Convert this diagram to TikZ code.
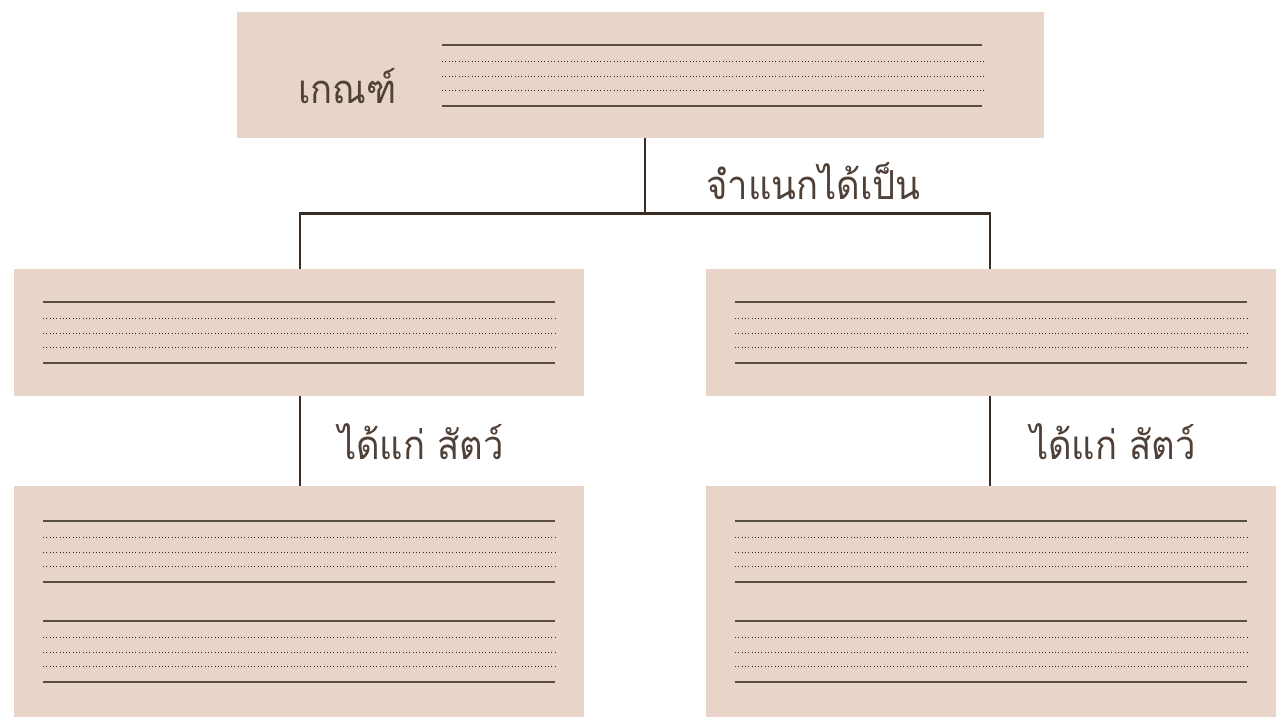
\documentclass[tikz,border=0pt]{standalone}
\usepackage{fontspec}
\newfontfamily\thaifont[Script=Thai, FakeStretch=0.91]{Loma}
\definecolor{boxfill}{HTML}{E8D4C9}
\definecolor{ink}{HTML}{3B2C22}
\tikzset{
  panel/.style={draw=none, fill=boxfill, rectangle, inner sep=0pt},
  rulesolid/.style={draw=ink!85, line width=1.2pt},
  ruledot/.style={draw=ink, line width=1pt, dash pattern=on 0.9pt off 2.4pt},
  conn/.style={draw=ink, line width=2.2pt},
  lbl/.style={text=ink!90, font=\thaifont\fontsize{40}{40}\selectfont, inner sep=0pt, anchor=base}
}
\newcommand{\ruleset}[3]{% x1, x2, ytop
  \draw[rulesolid] (#1,#3) -- (#2,#3);
  \draw[ruledot] (#1,#3+16.5) -- (#2+2,#3+16.5);
  \draw[ruledot] (#1,#3+31.5) -- (#2+2,#3+31.5);
  \draw[ruledot] (#1,#3+45.5) -- (#2+2,#3+45.5);
  \draw[rulesolid] (#1,#3+61) -- (#2,#3+61);
}
\begin{document}
\begin{tikzpicture}[x=1pt,y=-1pt]
\useasboundingbox (0,0) rectangle (1279,720);
% boxes
\node[panel, minimum width=807pt, minimum height=126pt] (top) at (640.5,75) {};
\node[panel, minimum width=570pt, minimum height=127pt] (ml) at (299,332.5) {};
\node[panel, minimum width=570pt, minimum height=127pt] (mr) at (991,332.5) {};
\node[panel, minimum width=570pt, minimum height=231pt] (bl) at (299,601.5) {};
\node[panel, minimum width=570pt, minimum height=231pt] (br) at (991,601.5) {};
% ruled lines
\ruleset{442}{982}{45}
\ruleset{43}{555}{302}
\ruleset{735}{1247}{302}
\ruleset{43}{555}{521}
\ruleset{43}{555}{621}
\ruleset{735}{1247}{521}
\ruleset{735}{1247}{621}
% connectors
\coordinate (j) at (645,213.5);
\coordinate (tj) at (645,138);
\coordinate (jl) at (300,213.5);
\coordinate (jr) at (990,213.5);
\coordinate (mlb) at (300,396);
\coordinate (blt) at (300,486);
\coordinate (mrb) at (990,396);
\coordinate (brt) at (990,486);
\draw[conn] (tj) -- (j);
\draw[conn] (jl |- ml.north) -- (jl) -- (jr) -- (jr |- mr.north);
\draw[conn] (mlb) -- (blt);
\draw[conn] (mrb) -- (brt);
% labels
\node[lbl] (crit) at (347.5,103) {เกณฑ์};
\node[lbl] (cls) at (813.5,199) {จำแนกได้เป็น};
\node[lbl] (exl) at (421,459) {ได้แก่ สัตว์};
\node[lbl] (exr) at (1113,459) {ได้แก่ สัตว์};
\end{tikzpicture}
\end{document}
